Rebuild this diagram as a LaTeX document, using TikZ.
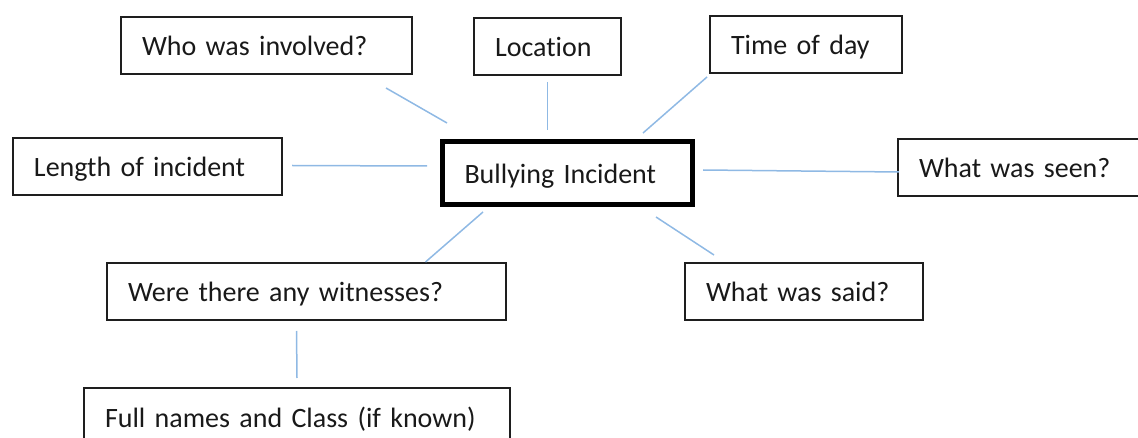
\documentclass[tikz,border=0pt]{standalone}
\usepackage{fontspec}
\setmainfont{Carlito}[Ligatures=NoCommon]
\usepackage{tikz}
\definecolor{linkblue}{RGB}{143,185,228}
\definecolor{boxline}{RGB}{30,30,30}

\begin{document}
\begin{tikzpicture}[
      x=1pt, y=-1pt,
      box/.style={draw=boxline, line width=2pt, anchor=north west, align=left,
        inner xsep=21pt, minimum height=57pt, text height=21pt, text depth=0pt,
        text=black!90, font=\fontsize{28}{34}\selectfont},
      hub/.style={box, draw=black, line width=5pt, inner xsep=22pt, minimum height=63pt},
      link/.style={draw=linkblue, line width=1.5pt}
    ]
    \useasboundingbox (0,0) rectangle (1138,438);
    \clip (0,0) rectangle (1138,438);

    % boxes
    \node[hub, text width=206pt] (bully) at (440,139) {Bullying Incident};
    \node[box, text width=249pt] (who)   at (120,16)  {Who was involved?};
    \node[box, text width=105pt] (loc)   at (473,17)  {Location};
    \node[box, text width=150pt] (time)  at (709,15)  {Time of day};
    \node[box, text width=227pt] (len)   at (12,137)  {Length of incident};
    \node[box, text width=219pt] (seen)  at (897,138) {What was seen?};
    \node[box, text width=196pt] (said)  at (684,262) {What was said?};
    \node[box, text width=357pt] (wit)   at (106,262) {Were there any witnesses?};
    \node[box, text width=384pt] (full)  at (83,387)  {Full names and Class (if known)};

    % connectors
    \draw[link] ([xshift=-27pt,yshift=-13pt]who.south east) -- ([xshift=7pt,yshift=16pt]bully.north west);
    \draw[link] ([yshift=-6pt]loc.south) -- ([xshift=-20pt,yshift=9pt]bully.north);
    \draw[link] ([xshift=-2pt,yshift=-3pt]time.south west) -- ([xshift=-52pt,yshift=6pt]bully.north east);
    \draw[link] ([xshift=9pt,yshift=1pt]len.east) -- ([xshift=-13pt,yshift=7pt]bully.west);
    \draw[link] ([xshift=8pt,yshift=3pt]bully.east) -- ([xshift=2pt,yshift=-4.5pt]seen.west);
    \draw[link] ([xshift=43pt,yshift=-5pt]bully.south west) -- ([xshift=119pt]wit.north);
    \draw[link] ([xshift=-39pt,yshift=-10pt]bully.south east) -- ([xshift=30pt,yshift=7pt]said.north west);
    \draw[link] ([xshift=-10pt,yshift=-10pt]wit.south) -- ([yshift=9pt]full.north);
\end{tikzpicture}
\end{document}
